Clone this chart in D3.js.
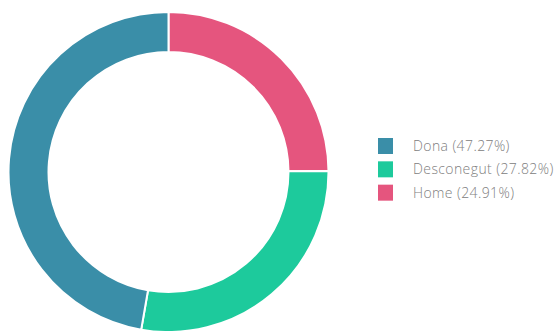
<!DOCTYPE html>
<html lang="ca">
<head>
<meta charset="UTF-8">
<title>Donut</title>
<script src="https://d3js.org/d3.v7.min.js"></script>
<style>
  body { margin: 0; background: #fff; }
  svg { display: block; font-family: "Open Sans", "Liberation Sans", sans-serif; }
</style>
</head>
<body>
<div id="chart"></div>
<script>
  // drawing order clockwise from 12 o'clock
  const labels = ["Home", "Desconegut", "Dona"];
  const values = [24.91, 27.82, 47.27];
  const colors = ["#e5557e", "#1dca9c", "#3a8ea8"];

  // legend order
  const legendOrder = ["Dona", "Desconegut", "Home"];

  const width = 560, height = 331;
  const cx = 168.5, cy = 172;
  const outerR = 160, innerR = 120;

  const svg = d3.select("#chart").append("svg")
      .attr("width", width)
      .attr("height", height);

  const data = labels.map((l, i) => ({ label: l, value: values[i], color: colors[i] }));

  const pie = d3.pie().value(d => d.value).sort(null);
  const arc = d3.arc().innerRadius(innerR).outerRadius(outerR);

  svg.append("g")
      .attr("transform", `translate(${cx},${cy})`)
    .selectAll("path")
    .data(pie(data))
    .join("path")
      .attr("d", arc)
      .attr("fill", d => d.data.color)
      .attr("stroke", "#fff")
      .attr("stroke-width", 2);

  const y = d3.scaleBand().domain(legendOrder).range([135, 205]);

  const legend = svg.append("g")
    .selectAll("g")
    .data(legendOrder.map(l => data.find(d => d.label === l)))
    .join("g")
      .attr("transform", d => `translate(378,${y(d.label)})`);

  legend.append("rect")
      .attr("y", 3)
      .attr("width", 15)
      .attr("height", 16)
      .attr("fill", d => d.color);

  legend.append("text")
      .attr("x", 35)
      .attr("y", 16)
      .attr("font-size", 14)
      .attr("font-weight", 300)
      .attr("letter-spacing", 0.4)
      .attr("fill", "#808080")
      .text(d => `${d.label} (${d.value.toFixed(2)}%)`);
</script>
</body>
</html>
